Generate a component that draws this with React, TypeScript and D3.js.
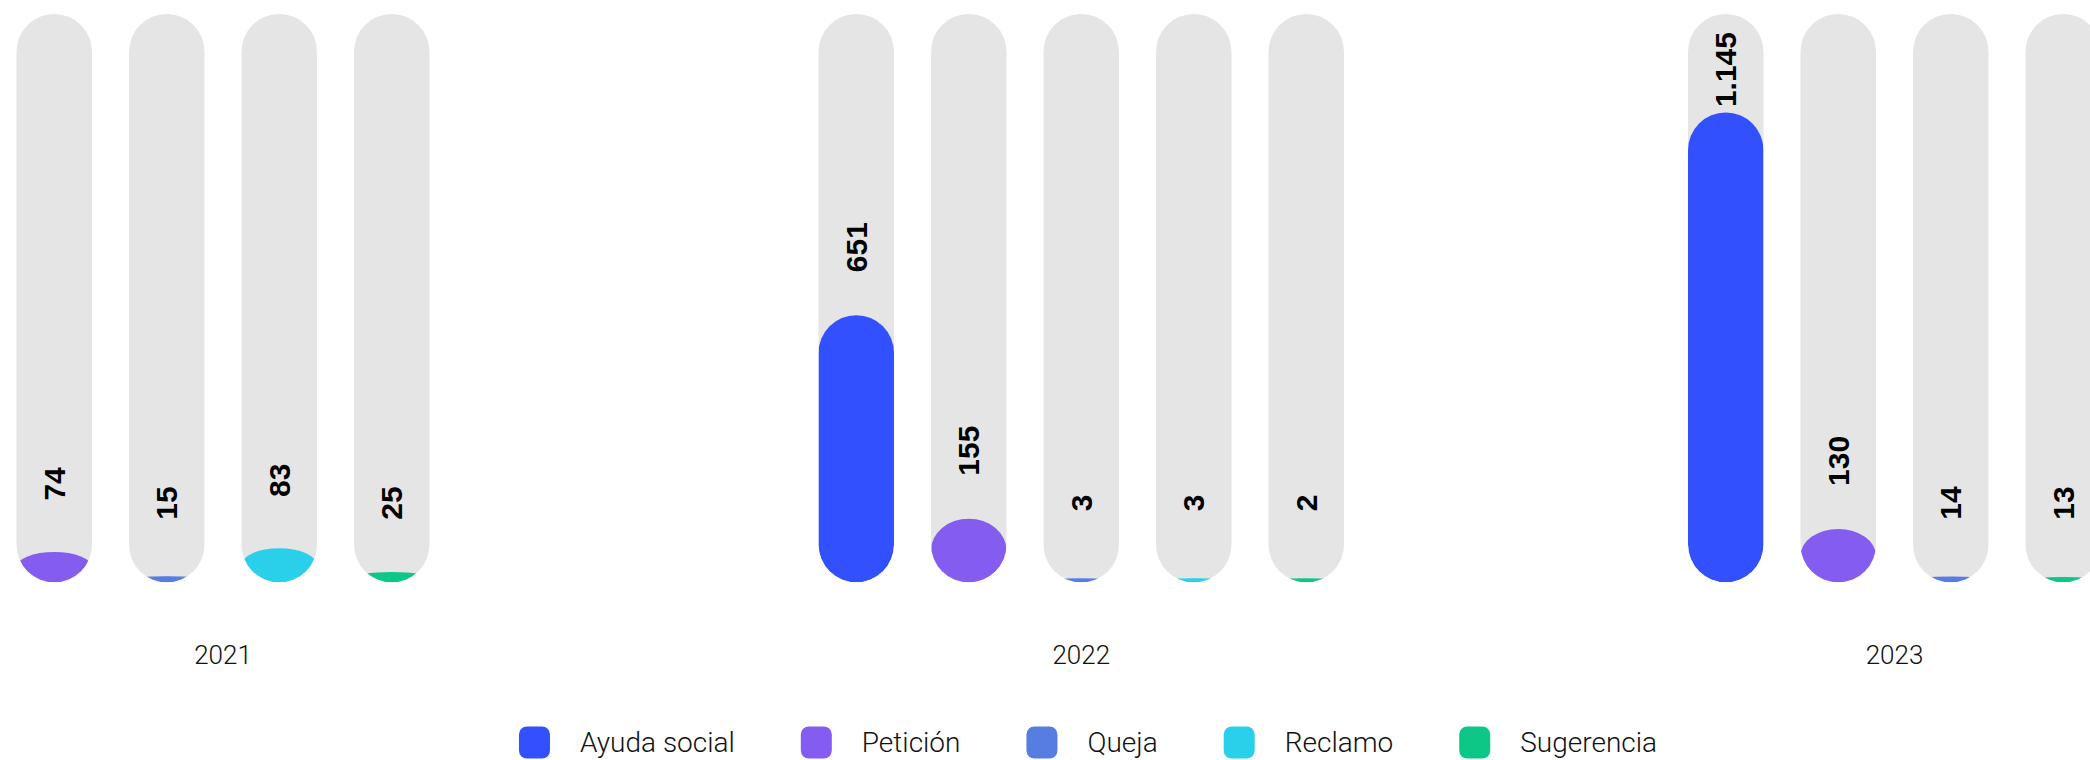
import { useEffect, useRef } from "react";
import * as d3 from "d3";

const years = ["2021", "2022", "2023"];
const categories = ["Ayuda social", "Petición", "Queja", "Reclamo", "Sugerencia"];
const colors = ["#3350ff", "#845cf0", "#577ce2", "#2acfea", "#0dc787"];

// categories present in each year, and their counts
const cats2021 = ["Petición", "Queja", "Reclamo", "Sugerencia"];
const vals2021 = [74, 15, 83, 25];
const cats2022 = ["Ayuda social", "Petición", "Queja", "Reclamo", "Sugerencia"];
const vals2022 = [651, 155, 3, 3, 2];
const cats2023 = ["Ayuda social", "Petición", "Queja", "Sugerencia"];
const vals2023 = [1145, 130, 14, 13];

const groupCats = [cats2021, cats2022, cats2023];
const groupVals = [vals2021, vals2022, vals2023];

const W = 2090;
const H = 760;

export default function App() {
  const svgRef = useRef<SVGSVGElement>(null);

  useEffect(() => {
    const svg = d3.select(svgRef.current);
    svg.selectAll("*").remove();

    const step = 112.5;
    const pad = 0.329;
    const groupGaps = [352, 307];
    const top = 14;
    const bottom = 582.3;

    const y = d3.scaleLinear().domain([0, 1385]).range([bottom, top]);
    const color = d3.scaleOrdinal<string, string>().domain(categories).range(colors);
    const fmt = d3.formatLocale({ decimal: ",", thousands: ".", grouping: [3], currency: ["$", ""] }).format(",d");

    const defs = svg.append("defs");
    let x0 = -2;

    years.forEach((year, gi) => {
      const cats = groupCats[gi];
      const vals = groupVals[gi];
      const x = d3
        .scaleBand<string>()
        .domain(cats)
        .range([x0, x0 + cats.length * step])
        .paddingInner(pad)
        .paddingOuter(pad / 2);
      const bw = x.bandwidth();
      const r = bw / 2;

      const g = svg.append("g");
      cats.forEach((c, i) => {
        const v = vals[i];
        const id = `clip-${gi}-${i}`;
        defs
          .append("clipPath")
          .attr("id", id)
          .append("rect")
          .attr("x", x(c)!)
          .attr("y", top)
          .attr("width", bw)
          .attr("height", bottom - top)
          .attr("rx", r);

        g.append("rect")
          .attr("x", x(c)!)
          .attr("y", top)
          .attr("width", bw)
          .attr("height", bottom - top)
          .attr("rx", r)
          .attr("fill", "#e5e5e5");

        const h = Math.max(bottom - y(v), 4);
        g.append("rect")
          .attr("clip-path", `url(#${id})`)
          .attr("x", x(c)!)
          .attr("y", bottom - h)
          .attr("width", bw)
          .attr("height", h)
          .attr("rx", r)
          .attr("fill", color(c));

        const cx = x(c)! + r;
        const t = g
          .append("text")
          .text(fmt(v))
          .attr("font-family", "'Liberation Sans', Arial, sans-serif")
          .attr("font-weight", 700)
          .attr("font-size", 30)
          .attr("fill", "#000")
          .attr("text-anchor", "middle")
          .attr("dominant-baseline", "central");
        const len = (t.node() as SVGTextElement).getComputedTextLength();
        const cy = Math.min(503, Math.max(y(v) - 68, top + 18 + len / 2));
        t.attr("x", cx).attr("y", cy).attr("transform", `rotate(-90, ${cx}, ${cy})`);
      });

      const [a, b] = x.range();
      svg
        .append("text")
        .attr("x", (a + b) / 2)
        .attr("y", 655)
        .attr("text-anchor", "middle")
        .attr("dominant-baseline", "central")
        .attr("font-family", "Roboto, sans-serif")
        .attr("font-weight", 300)
        .attr("font-size", 26)
        .attr("fill", "#111")
        .text(year);

      x0 = b + (groupGaps[gi] ?? 0);
    });

    // legend
    const legend = svg.append("g");
    const sw = 31;
    const swGap = 30;
    const itemGap = 66;
    const items = categories.map((c) => {
      const gItem = legend.append("g");
      gItem
        .append("rect")
        .attr("width", sw)
        .attr("height", 32)
        .attr("y", 742.5 - 16)
        .attr("rx", 8)
        .attr("fill", color(c));
      const t = gItem
        .append("text")
        .attr("x", sw + swGap)
        .attr("y", 742.5)
        .attr("dominant-baseline", "central")
        .attr("font-family", "Roboto, sans-serif")
        .attr("font-weight", 300)
        .attr("font-size", 28)
        .attr("fill", "#111")
        .text(c);
      const len = (t.node() as SVGTextElement).getComputedTextLength();
      return { gItem, w: sw + swGap + len };
    });
    const total = d3.sum(items, (d) => d.w) + itemGap * (items.length - 1);
    let lx = 1088 - total / 2;
    items.forEach((it) => {
      it.gItem.attr("transform", `translate(${lx},0)`);
      lx += it.w + itemGap;
    });
  }, []);

  return (
    <svg
      ref={svgRef}
      width={W}
      height={H}
      style={{ position: "absolute", left: 0, top: 0, background: "#fff" }}
    />
  );
}
